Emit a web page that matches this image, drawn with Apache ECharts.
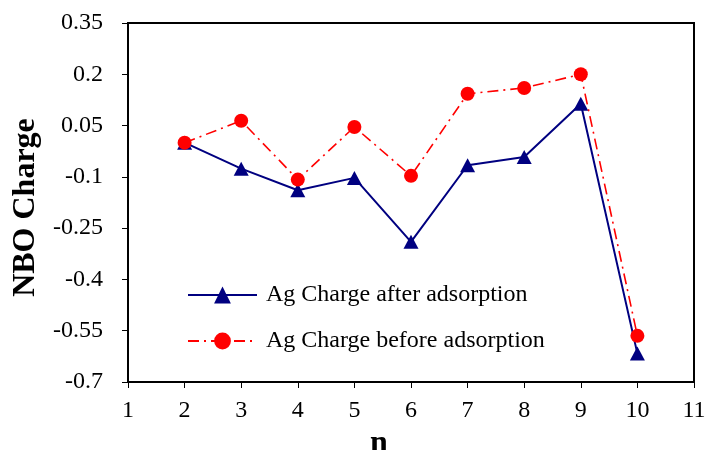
<!DOCTYPE html>
<html>
<head>
<meta charset="utf-8">
<script src="https://cdn.jsdelivr.net/npm/echarts@6/dist/echarts.min.js"></script>
<style>html,body{margin:0;padding:0;background:#fff}#c{width:708px;height:450px}</style>
</head>
<body>
<div id="c"></div>
<script>
var nValues = [2, 3, 4, 5, 6, 7, 8, 9, 10];
var afterAdsorption = [0.0, -0.076, -0.139, -0.103, -0.29, -0.066, -0.042, 0.114, -0.617];
var beforeAdsorption = [0.0, 0.064, -0.108, 0.046, -0.097, 0.143, 0.16, 0.2, -0.565];
var seriesNames = ['Ag Charge after adsorption', 'Ag Charge before adsorption'];

var FONT = '"Liberation Serif", "Times New Roman", serif';
function pairs(ys) { return nValues.map(function (n, i) { return [n, ys[i]]; }); }

var chart = echarts.init(document.getElementById('c'), null, {renderer: 'canvas'});
chart.setOption({
  animation: false,
  backgroundColor: '#fff',
  grid: {left: 128, right: 14, top: 23, bottom: 68, containLabel: false, outerBoundsMode: 'none',
    show: true, borderColor: '#000', borderWidth: 2, backgroundColor: 'transparent'},
  legend: {
    orient: 'vertical', left: 182, top: 278, itemWidth: 69, itemHeight: 21, itemGap: 22,
    textStyle: {fontFamily: FONT, fontSize: 24, color: '#000', padding: [0, 0, 0, 4]},
    data: seriesNames
  },
  xAxis: {
    type: 'value', min: 1, max: 11, interval: 1,
    name: 'n', nameLocation: 'middle', nameGap: 34,
    nameTextStyle: {fontFamily: FONT, fontSize: 32, fontWeight: 'bold', color: '#000', padding: [0, 64, 0, 0]},
    axisLine: {show: true, onZero: false, lineStyle: {color: '#000', width: 2}},
    axisTick: {show: true, inside: false, length: 6, lineStyle: {color: '#000', width: 1}},
    axisLabel: {fontFamily: FONT, fontSize: 24, color: '#000', margin: 17},
    splitLine: {show: false}
  },
  yAxis: {
    type: 'value', min: -0.7, max: 0.35, interval: 0.15,
    name: 'NBO Charge', nameLocation: 'middle', nameGap: 85,
    nameTextStyle: {fontFamily: FONT, fontSize: 32, fontWeight: 'bold', color: '#000', padding: [0, 10, 0, 0]},
    axisLine: {show: true, onZero: false, lineStyle: {color: '#000', width: 2}},
    axisTick: {show: true, inside: false, length: 6, lineStyle: {color: '#000', width: 1}},
    axisLabel: {fontFamily: FONT, fontSize: 24, color: '#000', margin: 25,
      formatter: function (v) { return String(parseFloat(v.toFixed(2))); }},
    splitLine: {show: false}
  },
  series: [
    {
      name: seriesNames[0], type: 'line', data: pairs(afterAdsorption),
      symbol: 'triangle', symbolSize: [15, 14],
      lineStyle: {color: '#000080', width: 2},
      itemStyle: {color: '#000080'}, z: 2
    },
    {
      name: seriesNames[1], type: 'line', data: pairs(beforeAdsorption),
      symbol: 'circle', symbolSize: 14,
      lineStyle: {color: '#ff0000', width: 1.6, type: [11, 5, 2, 5]},
      itemStyle: {color: '#ff0000'}, z: 3
    }
  ]
});
</script>
</body>
</html>
